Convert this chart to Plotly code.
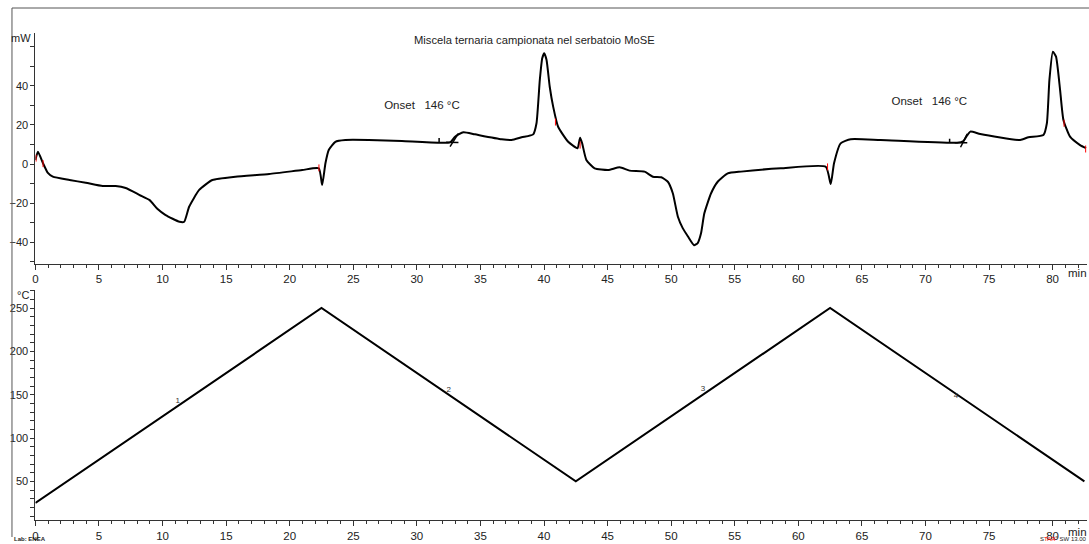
import plotly.graph_objects as go

# ---------------- data ----------------
dsc_time = [0.0, 0.2, 0.59, 0.98, 1.37, 2.68, 3.96, 5.29, 6.31, 7.10, 8.20, 8.98, 9.61, 10.24,
            11.33, 11.70, 12.09, 12.88, 13.92, 15.73, 18.39, 20.98, 22.29, 22.55, 22.81, 23.07,
            23.59, 24.38, 26.21, 28.82, 32.61, 33.0, 33.66, 34.57, 36.67, 37.45, 38.24, 39.15,
            39.41, 39.67, 39.86, 40.02, 40.2, 40.45, 40.72, 41.11, 41.9, 42.63, 42.84, 43.0,
            43.33, 43.98, 45.04, 45.95, 46.73, 47.91, 48.56, 49.22, 49.74, 50.13, 50.53, 50.92,
            51.31, 51.8, 52.09, 52.35, 52.61, 53.14, 53.66, 54.45, 55.49, 58.63, 62.16,
            62.55, 62.81, 63.33, 64.12, 66.47, 72.49, 72.99, 73.25, 73.53, 74.31, 77.45, 78.1,
            79.28, 79.55, 79.75, 80.02, 80.27, 80.59, 80.85, 81.37, 82.16, 82.63]
dsc_mw = [2.0, 6.3, 0.5, -4.6, -6.5, -8.2, -9.6, -11.3, -11.3, -12.3, -15.9, -18.5, -23.1, -26.2,
          -29.6, -29.6, -21.9, -13.3, -8.2, -6.5, -5.1, -3.1, -2.2, -10.8, 0.4, 7.2,
          11.4, 12.3, 12.3, 11.8, 11.1, 14.0, 16.3, 15.2, 12.7, 12.3, 13.7, 15.2,
          20.9, 43.1, 54.2, 56.8, 53.3, 39.6, 29.4, 19.1, 11.4, 8.1, 13.5, 10.6,
          2.1, -2.2, -3.1, -1.7, -3.4, -3.9, -6.5, -6.8, -9.1, -15.0, -27.0, -33.0,
          -37.0, -41.6, -40.5, -35.5, -25.3, -15.0, -9.1, -4.8, -3.9, -2.2, -1.4,
          -10.3, 0.4, 10.6, 12.7, 12.3, 10.9, 11.8, 14.4, 16.6, 15.4, 12.3, 13.7,
          14.9, 20.9, 43.1, 57.6, 55.0, 37.9, 22.6, 14.0, 9.7, 8.1]

# integration limit markers (red)
limit_time = [0.05, 0.6, 22.3, 40.9, 42.84, 62.3, 80.9, 82.6]
limit_mw = [3.0, 0.2, -2.0, 21.5, 9.7, -1.5, 20.9, 7.7]

# onset construction lines (baseline extension, tangent, small tick)
onset_time = [32.3, 33.27, None, 32.61, 33.27, None, 31.75, 31.75, None,
              72.3, 73.29, None, 72.76, 73.29, None, 71.9, 71.9]
onset_mw = [11.1, 11.0, None, 8.9, 15.7, None, 11.3, 13.3, None,
            10.9, 10.9, None, 8.6, 15.4, None, 11.0, 13.0]
onset_label_time = [30.4, 70.3]
onset_label_mw = [29.5, 31.5]
onset_label_text = ["Onset   146 °C", "Onset   146 °C"]

# temperature program
temp_time = [0.0, 22.5, 42.5, 62.5, 82.5]
temp_c = [25, 250, 50, 250, 50]
segment_time = [11.2, 32.5, 52.5, 72.4]
segment_c = [143, 155, 157, 148]
segment_text = ["1", "2", "3", "4"]

title_text = "Miscela ternaria campionata nel serbatoio MoSE"

# ---------------- figure ----------------
W, H = 1089, 544
FONT = "Liberation Sans"

def px(x):
    return x / W

def py(y):
    return 1 - y / H

x_range = [0, 82.7]
x_dom = [px(32.5), px(32.5 + 82.7 * 12.75)]

fig = go.Figure()

fig.add_trace(go.Scatter(x=dsc_time, y=dsc_mw, mode="lines",
                         line=dict(color="black", width=2, shape="spline", smoothing=0.5),
                         xaxis="x", yaxis="y", hoverinfo="skip"))
fig.add_trace(go.Scatter(x=onset_time, y=onset_mw, mode="lines",
                         line=dict(color="black", width=1.5),
                         xaxis="x", yaxis="y", hoverinfo="skip"))
fig.add_trace(go.Scatter(x=limit_time, y=limit_mw, mode="markers",
                         marker=dict(symbol="line-ns", size=5, line=dict(color="red", width=1)),
                         xaxis="x", yaxis="y", hoverinfo="skip"))
fig.add_trace(go.Scatter(x=onset_label_time, y=onset_label_mw, mode="text",
                         text=onset_label_text, textposition="middle center",
                         textfont=dict(family=FONT, size=11.5, color="#222"),
                         xaxis="x", yaxis="y", hoverinfo="skip"))

fig.add_trace(go.Scatter(x=temp_time, y=temp_c, mode="lines",
                         line=dict(color="black", width=2),
                         xaxis="x2", yaxis="y2", hoverinfo="skip"))
fig.add_trace(go.Scatter(x=segment_time, y=segment_c, mode="text",
                         text=segment_text, textposition="middle center",
                         textfont=dict(family=FONT, size=8, color="#333"),
                         xaxis="x2", yaxis="y2", hoverinfo="skip"))

xaxis_common = dict(range=x_range, domain=x_dom, showgrid=False, zeroline=False,
                    showline=True, linecolor="#333", linewidth=1,
                    ticks="outside", ticklen=5, tickcolor="#333", tick0=0, dtick=5,
                    minor=dict(ticks="outside", ticklen=3, dtick=1, tickcolor="#333"),
                    tickfont=dict(family=FONT, size=11.5, color="#222"))
yaxis_common = dict(showgrid=False, zeroline=False, showline=True, linecolor="#333", linewidth=1,
                    ticks="outside", ticklen=4, tickcolor="#333",
                    tickfont=dict(family=FONT, size=11, color="#222"))

fig.update_layout(
    width=W, height=H, autosize=False,
    margin=dict(l=0, r=0, t=0, b=0),
    paper_bgcolor="white", plot_bgcolor="white",
    showlegend=False,
    xaxis=dict(**xaxis_common, anchor="y", ticklabelstandoff=0),
    yaxis=dict(**yaxis_common, range=[-51, 67], domain=[py(263.5), py(33.3)], anchor="x",
               tickvals=[-40, -20, 0, 20, 40],
               minor=dict(ticks="outside", ticklen=4, tickvals=[-50, -30, -10, 10, 30, 50, 60], tickcolor="#333")),
    xaxis2=dict(**xaxis_common, anchor="y2", ticklabelstandoff=0),
    yaxis2=dict(**yaxis_common, range=[5.4, 270.8], domain=[py(520), py(290)], anchor="x2",
                tickvals=[50, 100, 150, 200, 250],
                minor=dict(ticks="outside", ticklen=4, dtick=10, tick0=0, tickcolor="#333")),
)

annotations = [
    dict(text=title_text, x=px(533), y=py(40), xref="paper", yref="paper", showarrow=False,
         font=dict(family=FONT, size=11.2, color="#222"), xanchor="center", yanchor="middle"),
    dict(text="mW", x=px(18), y=py(38), xref="paper", yref="paper", showarrow=False,
         font=dict(family=FONT, size=11, color="#222"), xanchor="center", yanchor="middle"),
    dict(text="min", x=px(1077), y=py(272.5), xref="paper", yref="paper", showarrow=False,
         font=dict(family=FONT, size=11.5, color="#222"), xanchor="center", yanchor="middle"),
    dict(text="°C", x=px(20), y=py(295), xref="paper", yref="paper", showarrow=False,
         font=dict(family=FONT, size=11, color="#222"), xanchor="center", yanchor="middle"),
    dict(text="min", x=px(1077), y=py(532), xref="paper", yref="paper", showarrow=False,
         font=dict(family=FONT, size=11.5, color="#222"), xanchor="center", yanchor="middle"),
    dict(text="<b>Lab: ENEA</b>", x=px(9), y=0, xref="paper", yref="paper", showarrow=False,
         font=dict(family=FONT, size=6, color="#222"), xanchor="left", yanchor="bottom"),
    dict(text="S<span style='color:red'>TAR</span><sup>e</sup> SW 13.00", x=px(1089), y=0,
         xref="paper", yref="paper", showarrow=False,
         font=dict(family=FONT, size=6, color="#222"), xanchor="right", yanchor="bottom"),
]
fig.update_layout(annotations=annotations)

fig.update_layout(shapes=[
    dict(type="line", xref="paper", yref="paper", x0=px(9), x1=1, y0=py(8), y1=py(8),
         line=dict(color="#555", width=1)),
    dict(type="line", xref="paper", yref="paper", x0=px(9), x1=px(9), y0=py(8), y1=py(537),
         line=dict(color="#555", width=1)),
])

fig.write_html("out.html", config={"displayModeBar": False},
               post_script="document.body.style.margin='0';document.body.style.overflow='hidden';")
